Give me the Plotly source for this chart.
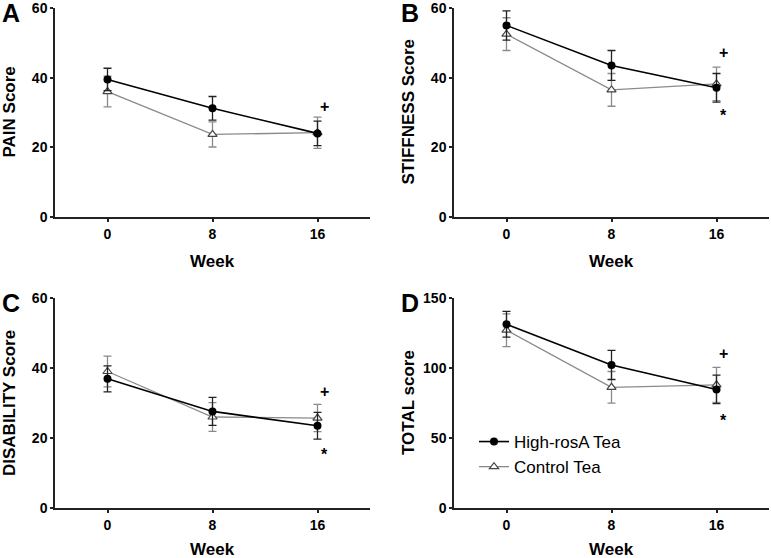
import plotly.graph_objects as go

weeks = [0, 8, 16]

pain_high = [39.5, 31.2, 24.0]
pain_high_err = [3.2, 3.4, 3.5]
pain_ctrl = [36.0, 23.7, 24.2]
pain_ctrl_err = [4.4, 3.6, 4.5]

stiff_high = [55.0, 43.5, 37.1]
stiff_high_err = [4.2, 4.3, 4.1]
stiff_ctrl = [52.5, 36.5, 38.2]
stiff_ctrl_err = [4.7, 4.7, 4.8]

dis_high = [36.9, 27.6, 23.5]
dis_high_err = [3.7, 4.0, 3.8]
dis_ctrl = [39.0, 26.0, 25.7]
dis_ctrl_err = [4.4, 4.1, 3.9]

tot_high = [131.2, 102.2, 84.7]
tot_high_err = [9.2, 10.4, 10.2]
tot_ctrl = [127.0, 86.2, 88.0]
tot_ctrl_err = [11.7, 11.3, 12.5]

panel_letters = ["A", "B", "C", "D"]
y_titles = ["PAIN Score", "STIFFNESS Score", "DISABILITY Score", "TOTAL score"]
y_ranges = [[0, 60], [0, 60], [0, 60], [0, 150]]
y_ticks = [[0, 20, 40, 60], [0, 20, 40, 60], [0, 20, 40, 60], [0, 50, 100, 150]]
x_title = "Week"
series_names = ["High-rosA Tea", "Control Tea"]

# significance marks: (panel index, symbol, y value)
sig_marks = [
    (0, "+", 31.8),
    (1, "+", 47.1), (1, "*", 29.0),
    (2, "+", 33.2), (2, "*", 15.4),
    (3, "+", 110.6), (3, "*", 62.8),
]

panels = [
    (pain_high, pain_high_err, pain_ctrl, pain_ctrl_err),
    (stiff_high, stiff_high_err, stiff_ctrl, stiff_ctrl_err),
    (dis_high, dis_high_err, dis_ctrl, dis_ctrl_err),
    (tot_high, tot_high_err, tot_ctrl, tot_ctrl_err),
]

W, H = 771, 558
FONT = "Arial, 'Liberation Sans', Helvetica, sans-serif"

# pixel layout of each plot area: (left, right, top, bottom)
boxes = [(55, 370, 8, 217), (454, 769, 8, 217), (55, 370, 298, 508), (454, 769, 298, 508)]
x_title_shift = [-44, -44, -41, -41]

fig = go.Figure()
axis_ids = ["", "2", "3", "4"]
GRAY = "#8a8a8a"

for i, (hv, he, cv, ce) in enumerate(panels):
    xa = "x" + axis_ids[i]
    ya = "y" + axis_ids[i]
    fig.add_trace(go.Scatter(
        x=weeks, y=cv, name=series_names[1], mode="lines+markers",
        xaxis=xa, yaxis=ya, showlegend=(i == 3), legendrank=2,
        line=dict(color=GRAY, width=1.3),
        marker=dict(symbol="triangle-up", size=8, color="white",
                    line=dict(color="#444444", width=1.2)),
        error_y=dict(type="data", array=ce, color=GRAY, thickness=1.3, width=4),
    ))
    fig.add_trace(go.Scatter(
        x=weeks, y=hv, name=series_names[0], mode="lines+markers",
        xaxis=xa, yaxis=ya, showlegend=(i == 3), legendrank=1,
        line=dict(color="black", width=1.6),
        marker=dict(symbol="circle", size=8, color="black"),
        error_y=dict(type="data", array=he, color="#222222", thickness=1.3, width=4),
    ))

layout = dict(
    template="none",
    width=W, height=H,
    margin=dict(l=0, r=0, t=0, b=0, autoexpand=False),
    paper_bgcolor="white", plot_bgcolor="white",
    font=dict(family=FONT, color="black"),
    showlegend=True,
    legend=dict(x=474 / W, y=1 - 424 / H, xanchor="left", yanchor="top",
                bgcolor="rgba(0,0,0,0)", font=dict(size=17, family=FONT),
                itemsizing="trace", tracegroupgap=0),
)

annotations = []
for i, (l, r, t, b) in enumerate(boxes):
    sfx = axis_ids[i]
    common = dict(
        ticks="outside", ticklen=3, tickwidth=1.5, tickcolor="#222",
        showline=True, linecolor="#222", linewidth=1.5, showgrid=False, zeroline=False,
        automargin=False, ticklabeloverflow="allow",
        tickfont=dict(size=14, family=FONT, weight="bold"),
    )
    layout["xaxis" + sfx] = dict(
        domain=[l / W, r / W], range=[-4, 20], anchor="y" + sfx,
        tickvals=weeks, **common)
    layout["yaxis" + sfx] = dict(
        domain=[1 - b / H, 1 - t / H], range=y_ranges[i], anchor="x" + sfx,
        tickvals=y_ticks[i], **common)
    # y title
    annotations.append(dict(
        text="<b>%s</b>" % y_titles[i], xref="x%s domain" % sfx, yref="y%s domain" % sfx,
        x=0, y=0.5, xanchor="center", yanchor="middle", xshift=-46, textangle=-90,
        showarrow=False, font=dict(size=17, family=FONT)))
    # x title
    annotations.append(dict(
        text="<b>%s</b>" % x_title, xref="x%s domain" % sfx, yref="y%s domain" % sfx,
        x=0.5, y=0, xanchor="center", yanchor="middle", yshift=x_title_shift[i],
        showarrow=False, font=dict(size=17, family=FONT)))
    # panel letter
    annotations.append(dict(
        text="<b>%s</b>" % panel_letters[i], xref="paper", yref="paper",
        x=(l - 44) / W, y=1 - (t + 5) / H, xanchor="center", yanchor="middle",
        showarrow=False, font=dict(size=25, family=FONT)))

for (pi, sym, yv) in sig_marks:
    sfx = axis_ids[pi]
    annotations.append(dict(
        text="<b>%s</b>" % sym, xref="x" + sfx, yref="y" + sfx, x=16.5, y=yv,
        xanchor="center", yanchor="middle", showarrow=False,
        font=dict(size=16, family=FONT)))

layout["annotations"] = annotations
fig.update_layout(**layout)
fig.write_html("out.html", config={"displayModeBar": False},
               post_script="document.body.style.margin='0px';document.body.style.overflow='hidden';")
